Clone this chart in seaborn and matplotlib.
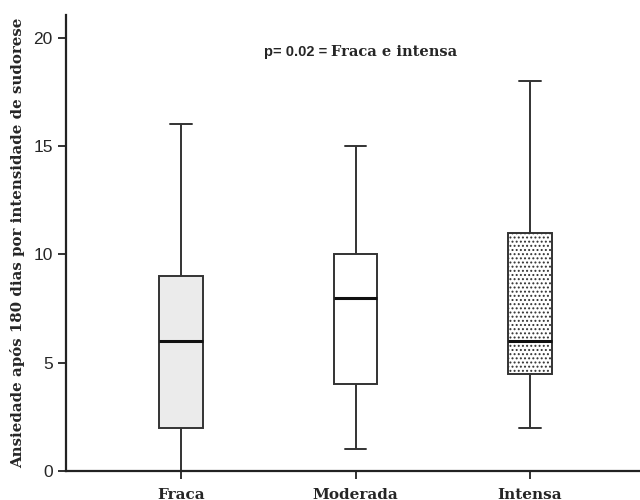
import numpy as np
import pandas as pd
import matplotlib
matplotlib.use("Agg")
import matplotlib.pyplot as plt
import seaborn as sns

categories = ["Fraca", "Moderada", "Intensa"]
whisker_low = [0, 1, 2]
q1 = [2, 4, 4.5]
median = [6, 8, 6]
q3 = [9, 10, 11]
whisker_high = [16, 15, 18]

rows = []
for c, a, b, m, d, e in zip(categories, whisker_low, q1, median, q3, whisker_high):
    for v in (a, b, m, d, e):
        rows.append({"grupo": c, "valor": v})
df = pd.DataFrame(rows)

sns.set_style("ticks")
plt.rcParams["hatch.color"] = "#a0a0a0"
plt.rcParams["hatch.linewidth"] = 0.9

fig = plt.figure(figsize=(6.4, 5.0), dpi=100)
ax = fig.add_axes([0.103, 0.058, 0.897, 0.912])

edge = "#333333"
sns.boxplot(data=df, x="grupo", y="valor", order=categories, ax=ax,
            width=0.25, whis=np.inf, linewidth=1.4, linecolor=edge,
            color="white", fill=True, showfliers=False,
            medianprops={"linewidth": 2.2, "color": "#111111"})

fills = ["#ebebeb", "white", "white"]
patches = [p for p in ax.patches]
for p, fc in zip(patches, fills):
    p.set_facecolor(fc)
    p.set_edgecolor(edge)
if len(patches) >= 3:
    patches[2].set_hatch("....")

ax.set_xlim(-0.66, 2.63)
ax.set_ylim(0, 21.05)
ax.set_yticks([0, 5, 10, 15, 20])
ax.set_yticklabels(["0", "5", "10", "15", "20"], fontfamily="Liberation Sans", fontsize=12.5)
ax.set_xticks(range(3))
ax.set_xticklabels(categories, fontfamily="DejaVu Serif", fontweight="bold", fontsize=11)
ax.tick_params(axis="both", length=6, width=1.3, color="#222222")
ax.tick_params(axis="x", pad=6)
for s in ("top", "right"):
    ax.spines[s].set_visible(False)
for s in ("left", "bottom"):
    ax.spines[s].set_linewidth(1.6)
    ax.spines[s].set_color("#222222")

ax.set_xlabel("")
ax.set_ylabel("Ansiedade após 180 dias por intensidade de sudorese",
              fontfamily="DejaVu Serif", fontweight="bold", fontsize=10.8, labelpad=6)

ax.text(0.86, 19.35, "p= 0.02 = ", fontfamily="Liberation Sans", fontweight="bold",
        fontsize=10.5, ha="right", va="center")
ax.text(0.86, 19.35, "Fraca e intensa", fontfamily="DejaVu Serif", fontweight="bold",
        fontsize=10.5, ha="left", va="center")

fig.savefig("out.png", dpi=100)
